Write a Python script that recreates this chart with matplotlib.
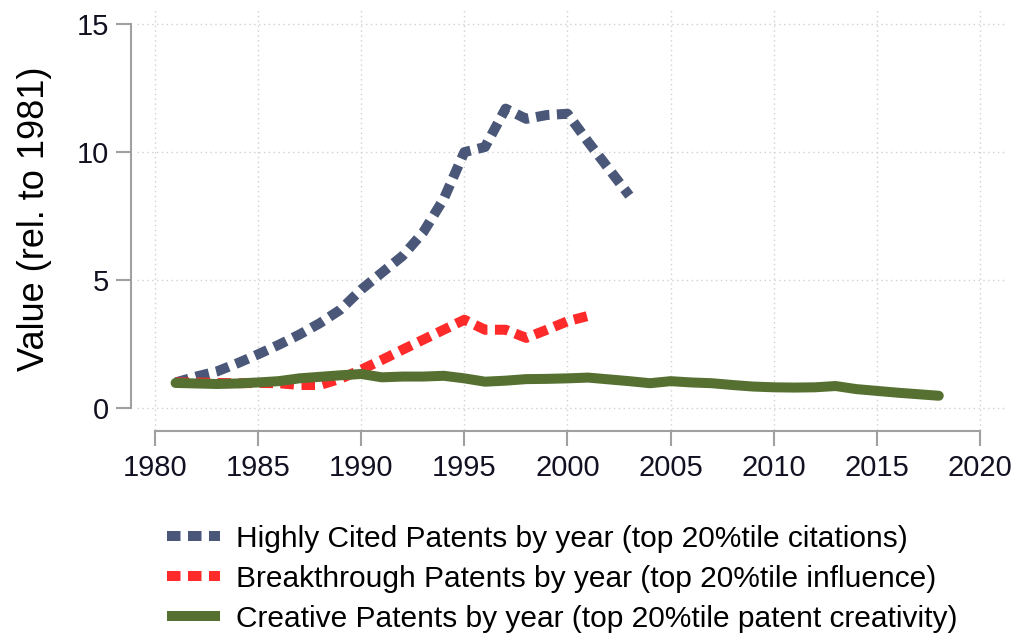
import numpy as np
import matplotlib.pyplot as plt

plt.rcParams['font.family'] = ['Liberation Sans', 'DejaVu Sans']

# values relative to 1981
cited_years = list(range(1981, 2004))
cited = [1.0, 1.23, 1.43, 1.75, 2.1, 2.47, 2.87, 3.32, 3.85, 4.63, 5.29, 5.94,
         6.86, 8.17, 10.0, 10.2, 11.7, 11.3, 11.45, 11.5, 10.4, 9.35, 8.3]

break_years = list(range(1981, 2002))
breakthrough = [1.0, 1.0, 0.98, 0.97, 0.98, 0.97, 0.9, 0.9, 1.15, 1.5, 1.88,
                2.28, 2.67, 3.06, 3.45, 3.06, 3.06, 2.74, 3.06, 3.39, 3.6]

creative_years = list(range(1981, 2019))
creative = [0.98, 0.96, 0.94, 0.96, 1.0, 1.05, 1.16, 1.22, 1.28, 1.33, 1.2,
            1.23, 1.23, 1.26, 1.16, 1.03, 1.07, 1.13, 1.14, 1.16, 1.19, 1.12,
            1.05, 0.97, 1.05, 1.0, 0.97, 0.9, 0.84, 0.81, 0.8, 0.81, 0.86,
            0.74, 0.67, 0.6, 0.54, 0.48]

labels = ["Highly Cited Patents by year (top 20%tile citations)",
          "Breakthrough Patents by year (top 20%tile influence)",
          "Creative Patents by year (top 20%tile patent creativity)"]

fig = plt.figure(figsize=(10.18, 6.39), dpi=100)
ax = fig.add_axes([0.1346, 0.327, 0.8524, 0.66])

lw = 7.2
ax.plot(cited_years, cited, color='#4a5778', lw=lw, dashes=(1.35, 0.75),
        dash_capstyle='butt', label=labels[0], zorder=3)
ax.plot(break_years, breakthrough, color='#ff2a2a', lw=lw, dashes=(1.35, 0.75),
        dash_capstyle='butt', label=labels[1], zorder=3)
ax.plot(creative_years, creative, color='#557030', lw=lw,
        solid_capstyle='round', label=labels[2], zorder=4)

ax.set_xlim(1979.13, 2021.2)
ax.set_ylim(-0.86, 15.62)
ax.set_xticks(np.arange(1980, 2021, 5))
ax.set_yticks([0, 5, 10, 15])
ax.grid(True, linestyle=(0, (1, 2.5)), color='#d0d0d0', lw=1.0)
ax.set_axisbelow(True)

for s in ['top', 'right']:
    ax.spines[s].set_visible(False)
ax.spines['left'].set_bounds(0, 15)
ax.spines['bottom'].set_bounds(1980, 2020)
ax.spines['left'].set_position(('outward', 4))
ax.spines['bottom'].set_position(('outward', 1))
for s in ['left', 'bottom']:
    ax.spines[s].set_color('#a0a0a0')
    ax.spines[s].set_linewidth(1.5)
ax.tick_params(axis='both', colors='#a0a0a0', width=1.5, length=11,
               labelsize=21, labelcolor='#111122')
ax.tick_params(axis='y', pad=5)
ax.tick_params(axis='x', pad=5)

ax.set_ylabel("Value (rel. to 1981)", fontsize=26, labelpad=18)

leg = fig.legend(loc='upper left', bbox_to_anchor=(0.164, 0.179), frameon=False,
                 fontsize=21.5, handlelength=1.77, handletextpad=0.53,
                 labelspacing=0.4, borderaxespad=0, borderpad=0)
for h in leg.get_lines():
    h.set_solid_capstyle('butt')

fig.savefig("out.png", dpi=100)
